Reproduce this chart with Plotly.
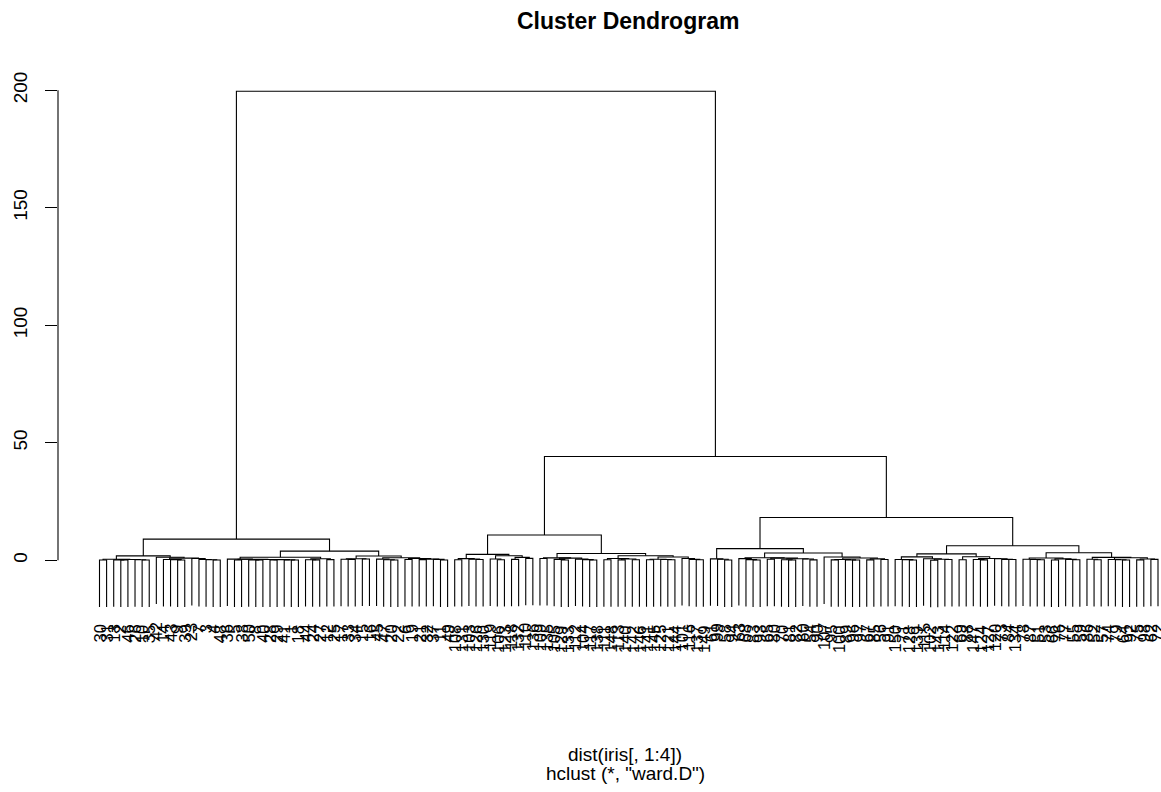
import math
import plotly.graph_objects as go

# ---- data: iris[, 1:4] (R datasets) ----
sepal_length = [5.1,4.9,4.7,4.6,5.0,5.4,4.6,5.0,4.4,4.9,5.4,4.8,4.8,4.3,5.8,5.7,5.4,5.1,5.7,5.1,
                5.4,5.1,4.6,5.1,4.8,5.0,5.0,5.2,5.2,4.7,4.8,5.4,5.2,5.5,4.9,5.0,5.5,4.9,4.4,5.1,
                5.0,4.5,4.4,5.0,5.1,4.8,5.1,4.6,5.3,5.0,
                7.0,6.4,6.9,5.5,6.5,5.7,6.3,4.9,6.6,5.2,5.0,5.9,6.0,6.1,5.6,6.7,5.6,5.8,6.2,5.6,
                5.9,6.1,6.3,6.1,6.4,6.6,6.8,6.7,6.0,5.7,5.5,5.5,5.8,6.0,5.4,6.0,6.7,6.3,5.6,5.5,
                5.5,6.1,5.8,5.0,5.6,5.7,5.7,6.2,5.1,5.7,
                6.3,5.8,7.1,6.3,6.5,7.6,4.9,7.3,6.7,7.2,6.5,6.4,6.8,5.7,5.8,6.4,6.5,7.7,7.7,6.0,
                6.9,5.6,7.7,6.3,6.7,7.2,6.2,6.1,6.4,7.2,7.4,7.9,6.4,6.3,6.1,7.7,6.3,6.4,6.0,6.9,
                6.7,6.9,5.8,6.8,6.7,6.7,6.3,6.5,6.2,5.9]
sepal_width = [3.5,3.0,3.2,3.1,3.6,3.9,3.4,3.4,2.9,3.1,3.7,3.4,3.0,3.0,4.0,4.4,3.9,3.5,3.8,3.8,
               3.4,3.7,3.6,3.3,3.4,3.0,3.4,3.5,3.4,3.2,3.1,3.4,4.1,4.2,3.1,3.2,3.5,3.6,3.0,3.4,
               3.5,2.3,3.2,3.5,3.8,3.0,3.8,3.2,3.7,3.3,
               3.2,3.2,3.1,2.3,2.8,2.8,3.3,2.4,2.9,2.7,2.0,3.0,2.2,2.9,2.9,3.1,3.0,2.7,2.2,2.5,
               3.2,2.8,2.5,2.8,2.9,3.0,2.8,3.0,2.9,2.6,2.4,2.4,2.7,2.7,3.0,3.4,3.1,2.3,3.0,2.5,
               2.6,3.0,2.6,2.3,2.7,3.0,2.9,2.9,2.5,2.8,
               3.3,2.7,3.0,2.9,3.0,3.0,2.5,2.9,2.5,3.6,3.2,2.7,3.0,2.5,2.8,3.2,3.0,3.8,2.6,2.2,
               3.2,2.8,2.8,2.7,3.3,3.2,2.8,3.0,2.8,3.0,2.8,3.8,2.8,2.8,2.6,3.0,3.4,3.1,3.0,3.1,
               3.1,3.1,2.7,3.2,3.3,3.0,2.5,3.0,3.4,3.0]
petal_length = [1.4,1.4,1.3,1.5,1.4,1.7,1.4,1.5,1.4,1.5,1.5,1.6,1.4,1.1,1.2,1.5,1.3,1.4,1.7,1.5,
                1.7,1.5,1.0,1.7,1.9,1.6,1.6,1.5,1.4,1.6,1.6,1.5,1.5,1.4,1.5,1.2,1.3,1.4,1.3,1.5,
                1.3,1.3,1.3,1.6,1.9,1.4,1.6,1.4,1.5,1.4,
                4.7,4.5,4.9,4.0,4.6,4.5,4.7,3.3,4.6,3.9,3.5,4.2,4.0,4.7,3.6,4.4,4.5,4.1,4.5,3.9,
                4.8,4.0,4.9,4.7,4.3,4.4,4.8,5.0,4.5,3.5,3.8,3.7,3.9,5.1,4.5,4.5,4.7,4.4,4.1,4.0,
                4.4,4.6,4.0,3.3,4.2,4.2,4.2,4.3,3.0,4.1,
                6.0,5.1,5.9,5.6,5.8,6.6,4.5,6.3,5.8,6.1,5.1,5.3,5.5,5.0,5.1,5.3,5.5,6.7,6.9,5.0,
                5.7,4.9,6.7,4.9,5.7,6.0,4.8,4.9,5.6,5.8,6.1,6.4,5.6,5.1,5.6,6.1,5.6,5.5,4.8,5.4,
                5.6,5.1,5.1,5.9,5.7,5.2,5.0,5.2,5.4,5.1]
petal_width = [0.2,0.2,0.2,0.2,0.2,0.4,0.3,0.2,0.2,0.1,0.2,0.2,0.1,0.1,0.2,0.4,0.4,0.3,0.3,0.3,
               0.2,0.4,0.2,0.5,0.2,0.2,0.4,0.2,0.2,0.2,0.2,0.4,0.1,0.2,0.2,0.2,0.2,0.1,0.2,0.2,
               0.3,0.3,0.2,0.6,0.4,0.3,0.2,0.2,0.2,0.2,
               1.4,1.5,1.5,1.3,1.5,1.3,1.6,1.0,1.3,1.4,1.0,1.5,1.0,1.4,1.3,1.4,1.5,1.0,1.5,1.1,
               1.8,1.3,1.5,1.2,1.3,1.4,1.4,1.7,1.5,1.0,1.1,1.0,1.2,1.6,1.5,1.6,1.5,1.3,1.3,1.3,
               1.2,1.4,1.2,1.0,1.3,1.2,1.3,1.3,1.1,1.3,
               2.5,1.9,2.1,1.8,2.2,2.1,1.7,1.8,1.8,2.5,2.0,1.9,2.1,2.0,2.4,2.3,1.8,2.2,2.3,1.5,
               2.3,2.0,2.0,1.8,2.1,1.8,1.8,1.8,2.1,1.6,1.9,2.0,2.2,1.5,1.4,2.3,2.4,1.8,1.8,2.1,
               2.4,2.3,1.9,2.3,2.5,2.3,1.9,2.0,2.3,1.8]
leaf_labels = [str(i) for i in range(1, 151)]
y_tick_vals = [0, 50, 100, 150, 200]
y_tick_text = ["0", "50", "100", "150", "200"]
title_text = "Cluster Dendrogram"
xlab_text = "dist(iris[, 1:4])"
sub_text = 'hclust (*, "ward.D")'
hang = 0.1


# ---- dist() euclidean, as in R ----
def r_dist(cols):
    n = len(cols[0])
    D = [[0.0] * n for _ in range(n)]
    for j in range(n):
        for i in range(j + 1, n):
            s = 0.0
            for c in cols:
                dev = c[i] - c[j]
                s += dev * dev
            D[i][j] = D[j][i] = math.sqrt(s)
    return D


# ---- hclust(method = "ward.D"), Murtagh NN-list algorithm as in R ----
def hclust_ward(D):
    n = len(D)
    diss = [row[:] for row in D]
    INF = 1e300
    flag = [True] * n
    membr = [1.0] * n
    nn = [0] * n
    disnn = [0.0] * n
    jm = 0
    for i in range(n - 1):
        dmin = INF
        for j in range(i + 1, n):
            if dmin > diss[i][j]:
                dmin = diss[i][j]
                jm = j
        nn[i] = jm
        disnn[i] = dmin
    ia, ib, crit = [], [], []
    ncl = n
    im = 0
    jj = 0
    while ncl > 1:
        dmin = INF
        for i in range(n - 1):
            if flag[i] and disnn[i] < dmin:
                dmin = disnn[i]
                im = i
                jm = nn[i]
        ncl -= 1
        i2, j2 = min(im, jm), max(im, jm)
        ia.append(i2 + 1)
        ib.append(j2 + 1)
        crit.append(dmin)
        flag[j2] = False
        dmin = INF
        for k in range(n):
            if flag[k] and k != i2:
                d12 = diss[i2][j2]
                v = (membr[i2] + membr[k]) * diss[i2][k] + (membr[j2] + membr[k]) * diss[j2][k] - membr[k] * d12
                v = v / (membr[i2] + membr[j2] + membr[k])
                diss[i2][k] = v
                diss[k][i2] = v
                if i2 < k:
                    if v < dmin:
                        dmin = v
                        jj = k
                else:
                    if v < disnn[k]:
                        disnn[k] = v
                        nn[k] = i2
        membr[i2] += membr[j2]
        disnn[i2] = dmin
        nn[i2] = jj
        for i in range(n - 1):
            if flag[i] and (nn[i] == i2 or nn[i] == j2):
                dmin = INF
                for j in range(i + 1, n):
                    if flag[j] and diss[i][j] < dmin:
                        dmin = diss[i][j]
                        jm = j
                nn[i] = jm
                disnn[i] = dmin
    return ia, ib, crit


def hcass2(n, ia, ib):
    iia, iib = ia[:], ib[:]
    for i in range(n - 2):
        k = min(ia[i], ib[i])
        for j in range(i + 1, n - 1):
            if ia[j] == k:
                iia[j] = -(i + 1)
            if ib[j] == k:
                iib[j] = -(i + 1)
    iia = [-v for v in iia]
    iib = [-v for v in iib]
    for i in range(n - 1):
        if iia[i] > 0 and iib[i] < 0:
            iia[i], iib[i] = iib[i], iia[i]
        if iia[i] > 0 and iib[i] > 0:
            a, b = min(iia[i], iib[i]), max(iia[i], iib[i])
            iia[i], iib[i] = a, b
    iorder = [iia[n - 2], iib[n - 2]]
    for i in range(n - 3, -1, -1):
        idx = iorder.index(i + 1)
        iorder[idx:idx + 1] = [iia[i], iib[i]]
    order = [-v for v in iorder]
    return iia, iib, order


cols = [sepal_length, sepal_width, petal_length, petal_width]
n = len(sepal_length)
D = r_dist(cols)
ia, ib, heights = hclust_ward(D)
m1, m2, order = hcass2(n, ia, ib)

hmax, hmin = max(heights), min(heights)
hang_units = hang * (hmax - hmin)
leaf_pos = {obs: i + 1 for i, obs in enumerate(order)}

xs, ys = [], []
node_x = {}
leaf_end = {}
for i in range(n - 1):
    h = heights[i]
    pts = []
    for c in (m1[i], m2[i]):
        if c < 0:
            cx = leaf_pos[-c]
            cy = h - hang_units
            leaf_end[-c] = cy
        else:
            cx = node_x[c]
            cy = heights[c - 1]
        pts.append((cx, cy))
    (xl, yl), (xr, yr) = pts
    xs += [xl, xl, xr, xr, None]
    ys += [yl, h, h, yr, None]
    node_x[i + 1] = 0.5 * (xl + xr)

# ---- layout geometry (pixels) ----
W, H = 1161, 792
L, R, T = 58, 0, 71
PLOT_BOTTOM = 701
B = H - PLOT_BOTTOM
Y0_PX, PX_PER_UNIT = 560.3, 2.35
y_top = (Y0_PX - T) / PX_PER_UNIT
y_bot = (Y0_PX - PLOT_BOTTOM) / PX_PER_UNIT
X1_PX, XN_PX = 99.5, 1158.0
px_per_leaf = (XN_PX - X1_PX) / (n - 1)
x_lo = 1 - (X1_PX - L) / px_per_leaf
x_hi = x_lo + (W - L - R) / px_per_leaf


def paper_x(px):
    return (px - L) / (W - L - R)


def paper_y(py):
    return (PLOT_BOTTOM - py) / (PLOT_BOTTOM - T)


FONT = "Liberation Sans, Arial, Helvetica, sans-serif"
BASE = 19
LEAF_FONT = 16.5

fig = go.Figure()
fig.add_trace(go.Scatter(x=xs, y=ys, mode="lines",
                         line=dict(color="black", width=1.1),
                         hoverinfo="skip", showlegend=False))

annotations = []
label_off = 17.0 / PX_PER_UNIT
for obs in order:
    annotations.append(dict(x=leaf_pos[obs], y=leaf_end[obs] - label_off,
                            xref="x", yref="y", text=leaf_labels[obs - 1],
                            textangle=-90, xanchor="center", yanchor="top",
                            showarrow=False, borderpad=0,
                            font=dict(family=FONT, size=LEAF_FONT, color="black")))

annotations.append(dict(x=paper_x(628), y=paper_y(21), xref="paper", yref="paper",
                        text="<b>" + title_text + "</b>", showarrow=False,
                        xanchor="center", yanchor="middle",
                        font=dict(family=FONT, size=23, color="black")))
annotations.append(dict(x=paper_x(625), y=paper_y(754), xref="paper", yref="paper",
                        text=xlab_text, showarrow=False,
                        xanchor="center", yanchor="middle",
                        font=dict(family=FONT, size=BASE, color="black")))
annotations.append(dict(x=paper_x(625), y=paper_y(773), xref="paper", yref="paper",
                        text=sub_text, showarrow=False,
                        xanchor="center", yanchor="middle",
                        font=dict(family=FONT, size=BASE, color="black")))

fig.update_layout(
    width=W, height=H,
    margin=dict(l=L, r=R, t=T, b=B, pad=0),
    paper_bgcolor="white", plot_bgcolor="white",
    showlegend=False,
    annotations=annotations,
    shapes=[dict(type="line", xref="paper", yref="y", x0=0, x1=0, y0=0, y1=200,
                 line=dict(color="black", width=1.1))],
    xaxis=dict(range=[x_lo, x_hi], visible=False, fixedrange=True),
    yaxis=dict(range=[y_bot, y_top], showgrid=False, zeroline=False, showline=False,
               tickmode="array", tickvals=y_tick_vals, ticktext=y_tick_text,
               ticks="outside", ticklen=12, tickwidth=1.1, tickcolor="black",
               tickangle=-90, ticklabelstandoff=10,
               tickfont=dict(family=FONT, size=BASE, color="black"),
               fixedrange=True),
)

fig.write_html("out.html")
